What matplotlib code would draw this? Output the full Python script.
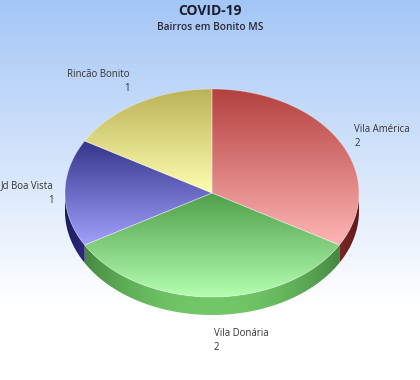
import numpy as np
import matplotlib
matplotlib.use("Agg")
import matplotlib.pyplot as plt
from matplotlib.patches import Polygon
from matplotlib.colors import to_rgb

plt.rcParams['font.family'] = ['Open Sans', 'DejaVu Sans']

# data
title = "COVID-19"
subtitle = "Bairros em Bonito MS"
bairros = ['Vila América', 'Vila Donária', 'Jd Boa Vista', 'Rincão Bonito']
casos = [2, 2, 1, 1]

# top face gradients (dark at top, light at bottom) and side colours
top_dark = ['#b3403e', '#4e9e48', '#34348a', '#bbb257']
top_light = ['#ffb6b6', '#b6ffb2', '#a2a2ff', '#ffffb2']
side_dark = ['#5e1818', '#2c642c', '#1a1a58', '#6a6420']
side_light = ['#b04040', '#72c868', '#4a4ab8', '#d8d070']

# pie geometry in pixels
cx, cy = 212, 193
rx, ry = 147, 104
depth = 18

W, H = 420, 380
fig = plt.figure(figsize=(W / 100, H / 100), dpi=100)
ax = fig.add_axes([0, 0, 1, 1])
ax.set_axis_off()

# background gradient
yy = np.linspace(0, 1, H)
t = np.clip(yy * H / 305, 0, 1)[:, None]
top_bg = np.array(to_rgb('#a4c6f6'))
bg = top_bg * (1 - t) + np.ones(3) * t
bg = np.repeat(bg[:, None, :], 10, axis=1)
ax.imshow(bg, extent=(0, W, H, 0), origin='upper', aspect='auto', zorder=0)


def ellipse_pts(a0, a1, n=120, dy=0):
    th = np.radians(np.linspace(a0, a1, n))
    return np.column_stack([cx + rx * np.cos(th), cy - ry * np.sin(th) + dy])


total = float(sum(casos))
bounds = 90 - 360 * np.concatenate([[0], np.cumsum(casos)]) / total

# sides (only lower half is visible)
for i in range(len(casos)):
    a0, a1 = bounds[i], bounds[i + 1]   # a0 > a1, clockwise
    lo, hi = max(a1, -180), min(a0, 0)
    if hi <= lo:
        continue
    up = ellipse_pts(hi, lo)
    down = ellipse_pts(lo, hi, dy=depth)
    poly = Polygon(np.vstack([up, down]), closed=True, facecolor='none',
                   edgecolor='none', transform=ax.transData)
    ax.add_patch(poly)
    xs = np.linspace(cx - rx, cx + rx, 300)
    u = np.clip((xs - cx) / rx, -1, 1)
    f = np.sqrt(1 - u ** 2) ** 1.5
    d = np.array(to_rgb(side_dark[i]))
    l = np.array(to_rgb(side_light[i]))
    img = d[None, :] * (1 - f[:, None]) + l[None, :] * f[:, None]
    img = np.repeat(img[None, :, :], 4, axis=0)
    im = ax.imshow(img, extent=(cx - rx, cx + rx, cy + ry + depth + 2, cy - 2),
                   origin='upper', aspect='auto', zorder=2)
    im.set_clip_path(poly)

# top faces
for i in range(len(casos)):
    a0, a1 = bounds[i], bounds[i + 1]
    arc = ellipse_pts(a0, a1)
    pts = np.vstack([[cx, cy], arc])
    poly = Polygon(pts, closed=True, facecolor='none', edgecolor='none',
                   transform=ax.transData)
    ax.add_patch(poly)
    y0, y1 = pts[:, 1].min(), pts[:, 1].max()
    g = np.linspace(0, 1, 200)[:, None]
    d = np.array(to_rgb(top_dark[i]))
    l = np.array(to_rgb(top_light[i]))
    img = d * (1 - g) + l * g
    img = np.repeat(img[:, None, :], 4, axis=1)
    im = ax.imshow(img, extent=(cx - rx - 1, cx + rx + 1, y1 + 1, y0 - 1),
                   origin='upper', aspect='auto', zorder=3)
    im.set_clip_path(poly)
    ax.add_patch(Polygon(pts, closed=True, facecolor='none',
                         edgecolor=(1, 1, 1, 0.35), lw=0.6, zorder=4))

ax.set_xlim(0, W)
ax.set_ylim(H, 0)

# labels
renderer = fig.canvas.get_renderer()
for i in range(len(casos)):
    mid = np.radians((bounds[i] + bounds[i + 1]) / 2)
    c, s = np.cos(mid), np.sin(mid)
    c = 0.0 if abs(c) < 1e-6 else c
    s = 0.0 if abs(s) < 1e-6 else s
    lx = cx + rx * 1.15 * c
    ly = cy - ry * 1.15 * s
    va = 'center'
    if s < 0:
        ly += depth - 3
        va = 'top'
    elif s > 0.6:
        ly -= 8
    elif s > 0:
        ly += 3
    if c < 0:
        ha = 'right'
        lx += 8 if s == 0 else 2
    else:
        ha = 'left'
        lx += 2 if c == 0 else -4
    txt = ax.text(lx, ly, "%s\n%d" % (bairros[i], casos[i]), ha=ha, va=va,
                  fontsize=6.9, color='#333333', linespacing=1.4, zorder=5)
    # keep the label inside the picture
    bb = txt.get_window_extent(renderer)
    if bb.x0 < 1:
        txt.set_x(lx + (1 - bb.x0))

ax.text(W / 2, 11, title, ha='center', va='center', fontsize=10,
        fontweight='bold', color='#1c1c2c')
ax.text(W / 2, 28, subtitle, ha='center', va='center', fontsize=7.3,
        fontweight='semibold', color='#2a2a3a')

fig.savefig('out.png', dpi=100)
